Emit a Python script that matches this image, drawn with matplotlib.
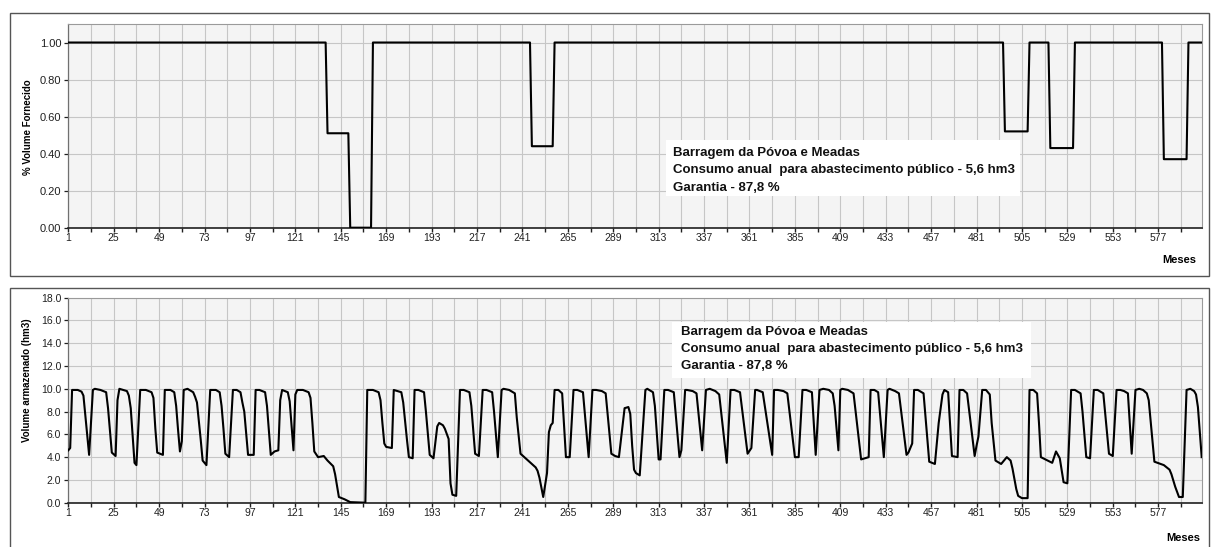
import numpy as np
import matplotlib.pyplot as plt
from matplotlib.patches import Rectangle

plt.rcParams['font.family'] = ['Liberation Sans', 'DejaVu Sans']

W, H = 1212, 547

# ---- data -------------------------------------------------------------------
# monthly % of volume supplied, as runs: first month of each run and its value
supply_start = [1, 138, 150, 162, 246, 258, 496, 509, 520, 533, 580, 593]
supply_value = [1.00, 0.51, 0.00, 1.00, 0.44, 1.00, 0.52, 1.00, 0.43, 1.00, 0.37, 1.00]
last_month = 600

# stored volume (hm3), read at the turning points of the monthly curve
vol_month = [
    1, 2, 3, 6, 8, 9, 10, 12, 13, 14, 15, 18, 21, 22, 24, 26, 27, 28, 32, 33,
    34, 36, 37, 39, 42, 45, 46, 47, 48, 51, 52, 55, 57, 58, 59, 60, 61, 62, 64, 67,
    68, 69, 71, 72, 74, 76, 79, 81, 82, 83, 84, 86, 88, 90, 92, 93, 94, 96, 99, 100,
    102, 105, 106, 108, 110, 112, 113, 114, 117, 118, 120, 121, 122, 125, 128, 129, 130, 131, 133, 136,
    138, 141, 142, 143, 144, 147, 150, 158, 159, 162, 165, 166, 167, 168, 169, 172, 173, 175, 177, 178,
    180, 181, 183, 184, 186, 189, 190, 192, 194, 196, 197, 199, 200, 202, 203, 204, 206, 208, 210, 213,
    214, 216, 218, 220, 222, 225, 226, 228, 230, 231, 234, 237, 238, 240, 242, 244, 246, 248, 249, 250,
    252, 254, 255, 256, 257, 258, 260, 262, 264, 266, 268, 270, 273, 276, 278, 280, 283, 285, 288, 290,
    292, 295, 297, 298, 299, 300, 301, 303, 306, 307, 310, 311, 313, 314, 316, 318, 321, 324, 325, 327,
    328, 331, 333, 336, 338, 340, 343, 345, 349, 351, 353, 356, 360, 362, 364, 365, 368, 373, 374, 376,
    379, 381, 385, 387, 389, 391, 394, 396, 398, 400, 403, 405, 406, 408, 409, 410, 413, 416, 420, 422,
    424, 425, 427, 429, 432, 434, 435, 438, 440, 444, 445, 447, 448, 450, 453, 456, 459, 461, 463, 464,
    466, 468, 471, 472, 474, 476, 480, 481, 482, 484, 486, 488, 489, 491, 494, 497, 499, 500, 502, 503,
    505, 508, 509, 511, 513, 514, 515, 518, 521, 523, 525, 527, 529, 531, 533, 536, 537, 539, 541, 543,
    545, 548, 551, 553, 555, 557, 559, 561, 563, 565, 567, 569, 571, 572, 575, 580, 583, 584, 586, 588,
    590, 592, 594, 596, 597, 598, 600,
]
vol_value = [
    4.6, 4.8, 9.9, 9.9, 9.75, 9.4, 7.7, 4.2, 7.1, 9.9, 10.0, 9.9, 9.7, 8.3, 4.4, 4.1, 9.0, 10.0, 9.8, 9.4,
    8.3, 3.5, 3.3, 9.9, 9.9, 9.7, 9.2, 6.5, 4.4, 4.2, 9.9, 9.9, 9.7, 8.5, 6.4, 4.5, 5.4, 9.9, 10.0, 9.7,
    9.3, 8.8, 5.5, 3.7, 3.3, 9.9, 9.9, 9.7, 8.5, 6.5, 4.3, 4.0, 9.9, 9.9, 9.7, 8.8, 8.0, 4.2, 4.2, 9.9,
    9.9, 9.7, 8.5, 4.2, 4.5, 4.6, 9.0, 9.9, 9.7, 8.9, 4.6, 9.5, 9.9, 9.9, 9.7, 9.2, 7.0, 4.5, 4.0, 4.1,
    3.7, 3.2, 2.5, 1.5, 0.5, 0.3, 0.05, 0.0, 9.9, 9.9, 9.7, 9.0, 7.0, 5.2, 4.9, 4.8, 9.9, 9.8, 9.7, 8.8,
    5.5, 4.0, 3.9, 9.9, 9.9, 9.7, 8.0, 4.2, 3.9, 6.7, 7.0, 6.8, 6.5, 5.6, 1.7, 0.7, 0.6, 9.9, 9.9, 9.7,
    8.5, 4.3, 4.1, 9.9, 9.9, 9.7, 8.0, 4.0, 9.9, 10.0, 9.9, 9.6, 7.5, 4.3, 4.0, 3.7, 3.4, 3.1, 2.8, 2.2,
    0.5, 2.6, 6.2, 6.8, 7.0, 9.9, 9.9, 9.6, 4.0, 4.0, 9.9, 9.9, 9.7, 4.0, 9.9, 9.9, 9.8, 9.6, 4.3, 4.1,
    4.0, 8.3, 8.4, 7.8, 5.0, 2.9, 2.6, 2.4, 9.9, 10.0, 9.7, 8.5, 3.8, 3.8, 9.9, 9.9, 9.7, 4.0, 4.6, 9.9,
    9.9, 9.8, 9.6, 4.6, 9.9, 10.0, 9.8, 9.5, 3.5, 9.9, 9.9, 9.7, 4.3, 4.8, 9.9, 9.9, 9.7, 4.2, 9.9, 9.9,
    9.8, 9.6, 4.0, 4.0, 9.9, 9.9, 9.7, 4.2, 9.9, 10.0, 9.9, 9.6, 8.5, 4.6, 9.9, 10.0, 9.9, 9.6, 3.8, 3.9,
    4.0, 9.9, 9.9, 9.7, 4.0, 9.9, 10.0, 9.8, 9.6, 4.2, 4.4, 5.2, 9.9, 9.9, 9.6, 3.6, 3.4, 7.0, 9.5, 9.9,
    9.7, 4.1, 4.0, 9.9, 9.9, 9.6, 4.1, 5.0, 5.8, 9.9, 9.9, 9.5, 7.0, 3.7, 3.4, 4.0, 3.7, 3.0, 1.2, 0.6,
    0.4, 0.4, 9.9, 9.9, 9.6, 7.0, 4.0, 3.75, 3.5, 4.5, 3.9, 1.8, 1.7, 9.9, 9.9, 9.6, 8.0, 4.0, 3.9, 9.9,
    9.9, 9.6, 4.3, 4.1, 9.9, 9.9, 9.8, 9.6, 4.3, 9.9, 10.0, 9.9, 9.6, 9.0, 3.6, 3.3, 2.9, 2.5, 1.4, 0.5,
    0.5, 9.9, 10.0, 9.8, 9.5, 8.4, 4.0,
]

title_lines = [
    "Barragem da Póvoa e Meadas",
    "Consumo anual  para abastecimento público - 5,6 hm3",
    "Garantia - 87,8 %",
]


def fx(x):
    return x / W


def fy(y):
    return 1 - y / H


def style_axes(ax, ymax, yticks, fmt, ysize):
    ax.set_facecolor("#f4f4f4")
    ax.set_xlim(1, last_month)
    ax.set_ylim(0, ymax)
    ticks = list(range(1, last_month + 1, 12))
    ax.set_xticks(ticks)
    ax.set_xticklabels([str(t) if (t - 1) % 24 == 0 else "" for t in ticks])
    ax.set_yticks(yticks)
    ax.set_yticklabels([fmt % v for v in yticks])
    ax.grid(True, color="#c6c6c6", lw=0.8)
    ax.set_axisbelow(True)
    for side in ("top", "right"):
        ax.spines[side].set_color("#9a9a9a")
        ax.spines[side].set_linewidth(0.8)
    ax.spines["left"].set_color("#707070")
    ax.spines["left"].set_linewidth(0.9)
    ax.spines["bottom"].set_color("#202020")
    ax.spines["bottom"].set_linewidth(1.2)
    ax.tick_params(axis="x", direction="out", length=3, width=1.0, pad=0.5,
                   labelsize=7.5, colors="#202020")
    ax.tick_params(axis="y", direction="out", length=3, width=0.9, pad=2,
                   labelsize=ysize, colors="#202020")


fig = plt.figure(figsize=(W / 100, H / 100), dpi=100)

# panel frames
fig.patches.append(Rectangle((fx(10), fy(276)), fx(1199), 263 / H,
                             transform=fig.transFigure, fill=False,
                             edgecolor="#555555", lw=1.0))
fig.patches.append(Rectangle((fx(10), -0.05), fx(1199), fy(288) + 0.05,
                             transform=fig.transFigure, fill=False,
                             edgecolor="#555555", lw=1.0))

# ---- top: % volume supplied ------------------------------------------------
months = np.arange(1, last_month + 1)
run_len = np.diff(supply_start + [last_month + 1])
supply = np.repeat(supply_value, run_len)

ax1 = fig.add_axes([fx(68.3), fy(227.7), fx(1133.4), 203.7 / H])
style_axes(ax1, 1.1, np.arange(0, 1.01, 0.2), "%.2f", 8)
ax1.plot(months, supply, color="black", lw=1.5, zorder=3)
ax1.add_patch(Rectangle((0.527, 0.155), 0.313, 0.275, transform=ax1.transAxes,
                        facecolor="white", edgecolor="none", zorder=1))

# ---- bottom: stored volume ---------------------------------------------------
ax2 = fig.add_axes([fx(68.3), fy(502.7), fx(1133.4), 205 / H])
style_axes(ax2, 18, np.arange(0, 18.1, 2), "%.1f", 7.5)
ax2.plot(vol_month, vol_value, color="black", lw=1.5, zorder=3)
ax2.add_patch(Rectangle((0.533, 0.608), 0.316, 0.274, transform=ax2.transAxes,
                        facecolor="white", edgecolor="none", zorder=1))

# ---- texts ---------------------------------------------------------------------
for i, line in enumerate(title_lines):
    fig.text(fx(673), fy(153 + 17.5 * i), line, ha="left", va="center",
             fontsize=9.5, fontweight="bold", color="#111111")
    fig.text(fx(681), fy(332 + 17 * i), line, ha="left", va="center",
             fontsize=9.5, fontweight="bold", color="#111111")

fig.text(fx(28), fy(127), "% Volume Fornecido", rotation=90, ha="center",
         va="center", fontsize=7, fontweight="bold")
fig.text(fx(27), fy(380), "Volume armazenado (hm3)", rotation=90, ha="center",
         va="center", fontsize=7, fontweight="bold")
fig.text(fx(1179), fy(260), "Meses", ha="center", va="center", fontsize=8,
         fontweight="bold")
fig.text(fx(1183), fy(538), "Meses", ha="center", va="center", fontsize=8,
         fontweight="bold")

fig.savefig("out.png", dpi=100)
